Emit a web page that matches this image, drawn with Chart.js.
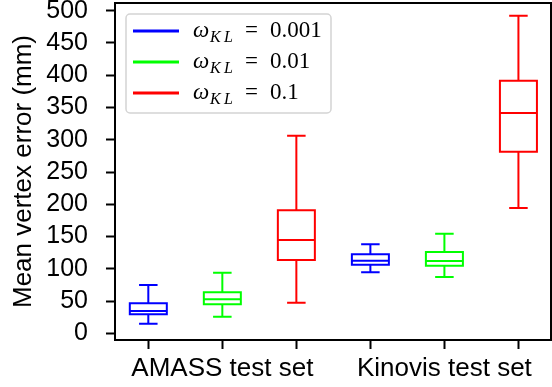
<!DOCTYPE html>
<html>
<head>
<meta charset="utf-8">
<script src="https://cdn.jsdelivr.net/npm/chart.js@4/dist/chart.umd.min.js"></script>
<style>
  html, body { margin: 0; padding: 0; background: #fff; }
  #wrap { width: 552px; height: 387px; }
</style>
</head>
<body>
<div id="wrap"><canvas id="c" width="552" height="387"></canvas></div>
<script>
// ---- Data ----
const categories = ['AMASS test set', 'Kinovis test set'];
const seriesNames = ['0.001', '0.01', '0.1'];
const seriesColors = ['#0000ff', '#00ff00', '#ff0000'];
const yTicks = [0, 50, 100, 150, 200, 250, 300, 350, 400, 450, 500];

// per series: [AMASS, Kinovis]
const whiskerMin = [[14.9, 94.6], [25.7, 87.3], [47.5, 194.3]];
const quart1     = [[29.4, 106.4], [45.0, 104.8], [113.6, 281.6]];
const medians    = [[34.6, 112.6], [52.7, 112.0], [144.6, 341.5]];
const quart3     = [[46.5, 122.5], [63.6, 126.0], [190.7, 391.6]];
const whiskerMax = [[74.9, 138.0], [94.0, 154.4], [306.4, 492.4]];

const BOX_W = 0.5, CAP_W = 0.25;
const posOf = (g, s) => 1 + g * seriesNames.length + s;

const datasets = seriesNames.map((name, s) => ({
  label: name,
  data: categories.map((c, g) => ({ x: posOf(g, s), y: medians[s][g] })),
  pointRadius: 0,
  borderColor: seriesColors[s],
  backgroundColor: seriesColors[s],
  showLine: false
}));

const boxPlugin = {
  id: 'boxes',
  afterDatasetsDraw(chart) {
    const ctx = chart.ctx, xs = chart.scales.x, ys = chart.scales.y;
    ctx.save();
    ctx.lineWidth = 2;
    ctx.lineCap = 'butt';
    seriesNames.forEach((n, s) => {
      categories.forEach((c, g) => {
        const p = posOf(g, s);
        const xl = xs.getPixelForValue(p - BOX_W / 2), xr = xs.getPixelForValue(p + BOX_W / 2);
        const cl = xs.getPixelForValue(p - CAP_W / 2), cr = xs.getPixelForValue(p + CAP_W / 2);
        const xc = xs.getPixelForValue(p);
        const yq1 = ys.getPixelForValue(quart1[s][g]), yq3 = ys.getPixelForValue(quart3[s][g]);
        const ymed = ys.getPixelForValue(medians[s][g]);
        const ymin = ys.getPixelForValue(whiskerMin[s][g]), ymax = ys.getPixelForValue(whiskerMax[s][g]);
        ctx.strokeStyle = seriesColors[s];
        ctx.beginPath();
        ctx.rect(xl, yq3, xr - xl, yq1 - yq3);
        ctx.moveTo(xl, ymed); ctx.lineTo(xr, ymed);
        ctx.moveTo(xc, yq3); ctx.lineTo(xc, ymax);
        ctx.moveTo(xc, yq1); ctx.lineTo(xc, ymin);
        ctx.moveTo(cl, ymax); ctx.lineTo(cr, ymax);
        ctx.moveTo(cl, ymin); ctx.lineTo(cr, ymin);
        ctx.stroke();
      });
    });
    // frame
    const a = chart.chartArea;
    ctx.strokeStyle = '#000';
    ctx.lineWidth = 2;
    ctx.strokeRect(a.left, a.top, a.right - a.left, a.bottom - a.top);
    // legend
    const lx = 126, ly = 14, lw = 205, lh = 99;
    ctx.beginPath();
    ctx.roundRect(lx, ly, lw, lh, 4);
    ctx.fillStyle = 'rgba(255,255,255,0.8)';
    ctx.fill();
    ctx.strokeStyle = '#d4d4d4';
    ctx.lineWidth = 1.5;
    ctx.stroke();
    seriesNames.forEach((n, s) => {
      const yy = ly + 17 + s * 31;
      ctx.strokeStyle = seriesColors[s];
      ctx.lineWidth = 3;
      ctx.beginPath(); ctx.moveTo(133, yy); ctx.lineTo(179, yy); ctx.stroke();
      ctx.fillStyle = '#000';
      ctx.textBaseline = 'alphabetic';
      ctx.textAlign = 'left';
      const base = yy + 6;
      ctx.font = 'italic 23px "Liberation Serif"';
      ctx.fillText('ω', 193, base);
      ctx.font = 'italic 16px "Liberation Serif"';
      ctx.fillText('K', 210, base + 5);
      ctx.fillText('L', 224, base + 5);
      ctx.font = '23px "Liberation Serif"';
      ctx.fillText('=', 245, base);
      ctx.fillText(n, 270, base);
    });
    ctx.restore();
  }
};

new Chart(document.getElementById('c'), {
  type: 'scatter',
  data: { datasets },
  plugins: [boxPlugin],
  options: {
    responsive: false,
    animation: false,
    devicePixelRatio: 1,
    layout: { padding: { top: 3, right: 1, left: 0, bottom: 0 } },
    plugins: { legend: { display: false }, tooltip: { enabled: false } },
    scales: {
      x: {
        type: 'linear',
        min: 0.55, max: 6.44,
        afterBuildTicks(sc) { sc.ticks = categories.flatMap((c, g) => seriesNames.map((n, s) => ({ value: posOf(g, s) }))); },
        afterFit(sc) { sc.height = 47; sc.paddingLeft = 0; sc.paddingRight = 0; },
        ticks: {
          autoSkip: false, maxRotation: 0, padding: 4,
          color: '#000',
          font: { family: 'Liberation Sans', size: 26 },
          callback(v) {
            const i = Math.round(v) - 1;
            const g = Math.floor(i / seriesNames.length), s = i % seriesNames.length;
            return s === 1 ? categories[g] : '';
          }
        },
        grid: { drawOnChartArea: false, drawTicks: true, tickLength: 9, tickWidth: 2, tickColor: '#000' },
        border: { display: true, color: '#000', width: 2 }
      },
      y: {
        min: -10.4, max: 512,
        afterBuildTicks(sc) { sc.ticks = yTicks.map(v => ({ value: v })); },
        afterFit(sc) { sc.width = 115; sc.paddingTop = 0; sc.paddingBottom = 0; },
        ticks: {
          padding: 18, color: '#000',
          font: { family: 'Liberation Sans', size: 25 }
        },
        title: {
          display: true, text: 'Mean vertex error (mm)', color: '#000',
          font: { family: 'Liberation Sans', size: 26 },
          padding: { top: 8, bottom: 0 }
        },
        grid: { drawOnChartArea: false, drawTicks: true, tickLength: 9, tickWidth: 2, tickColor: '#000' },
        border: { display: true, color: '#000', width: 2 }
      }
    }
  }
});
</script>
</body>
</html>
